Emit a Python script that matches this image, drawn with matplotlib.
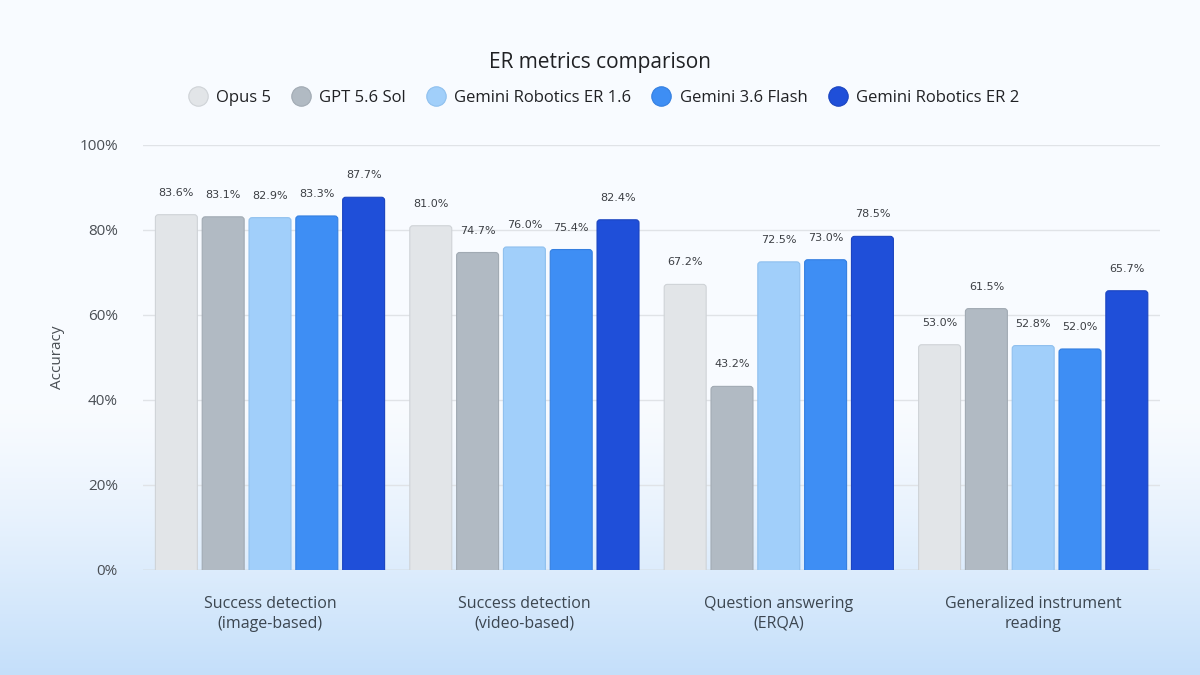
import numpy as np
import matplotlib
matplotlib.use('Agg')
import matplotlib.pyplot as plt
from matplotlib.patches import FancyBboxPatch
from matplotlib.lines import Line2D

categories = ['Success detection\n(image-based)', 'Success detection\n(video-based)',
              'Question answering\n(ERQA)', 'Generalized instrument\nreading']
models = ['Opus 5', 'GPT 5.6 Sol', 'Gemini Robotics ER 1.6', 'Gemini 3.6 Flash', 'Gemini Robotics ER 2']
opus = [83.6, 81.0, 67.2, 53.0]
gpt = [83.1, 74.7, 43.2, 61.5]
er16 = [82.9, 76.0, 72.5, 52.8]
flash = [83.3, 75.4, 73.0, 52.0]
er2 = [87.7, 82.4, 78.5, 65.7]
series = [opus, gpt, er16, flash, er2]

colors = ['#e2e5e8', '#b1bac3', '#a1cffa', '#3e8ef4', '#1f4fd9']
edges = ['#cfd3d7', '#a1aab3', '#8fc0ee', '#347fe0', '#1a44c0']

plt.rcParams['font.family'] = ['Open Sans', 'DejaVu Sans']

fig = plt.figure(figsize=(12, 6.75), dpi=100)

# background gradient
bg = fig.add_axes([0, 0, 1, 1], zorder=-10)
t = np.linspace(0, 1, 300)[:, None]
top = np.array([0.975, 0.985, 1.0])
bot = np.array([0.77, 0.875, 0.98])
w = np.clip((t - 0.6) / 0.4, 0, 1) ** 1.3
grad = top * (1 - w[..., None]) + bot * w[..., None]
grad = np.repeat(grad, 2, axis=1)
bg.imshow(grad, aspect='auto', extent=[0, 1, 0, 1], origin='upper')
bg.axis('off')

ax = fig.add_axes([0.119, 0.1556, 0.848, 0.6296])
ax.patch.set_alpha(0)
ax.set_xlim(-0.5, 3.5)
ax.set_ylim(0, 100)

x = np.arange(len(categories))
bw = 0.165
step = 0.184
aspect = (100 / 425) / (4 / 1017)
for i, vals in enumerate(series):
    for j, v in enumerate(vals):
        cx = x[j] + (i - 2) * step
        p = FancyBboxPatch((cx - bw / 2, -2), bw, v + 2,
                           boxstyle='round,pad=0,rounding_size=0.012',
                           mutation_aspect=aspect,
                           facecolor=colors[i], edgecolor=edges[i], linewidth=0.8,
                           zorder=3, clip_on=True)
        ax.add_patch(p)
        ax.text(cx, v + 4.0, f'{v:.1f}%', ha='center', va='bottom',
                fontsize=8, color='#3c3f44', family=['DejaVu Sans'], zorder=4)

ax.set_yticks(np.arange(0, 101, 20))
ax.set_yticklabels([f'{v}%' for v in range(0, 101, 20)], fontsize=11, color='#4a4f55')
ax.set_xticks(x)
ax.set_xticklabels(categories, fontsize=11.5, color='#3c4650', linespacing=1.3)
ax.tick_params(axis='both', length=0)
ax.tick_params(axis='x', pad=19)
ax.tick_params(axis='y', pad=18)
ax.grid(axis='y', color='#e0e3e7', linewidth=1, zorder=0)
for s in ax.spines.values():
    s.set_visible(False)
ax.axhline(0, color='#c9cdd2', linewidth=1, zorder=2)
ax.set_ylabel('Accuracy', fontsize=11, color='#4a4f55', labelpad=10)

fig.text(0.5, 0.908, 'ER metrics comparison', ha='center', va='center',
         fontsize=15, color='#202124')

handles = [Line2D([], [], marker='o', linestyle='none', markersize=14,
                  markerfacecolor=c, markeredgecolor=e, markeredgewidth=0.8)
           for c, e in zip(colors, edges)]
fig.legend(handles, models, loc='center', bbox_to_anchor=(0.5, 0.855), ncol=5,
           frameon=False, fontsize=12, handletextpad=0.1, columnspacing=0.8,
           labelcolor='#202124')

fig.savefig('out.png', dpi=100)
